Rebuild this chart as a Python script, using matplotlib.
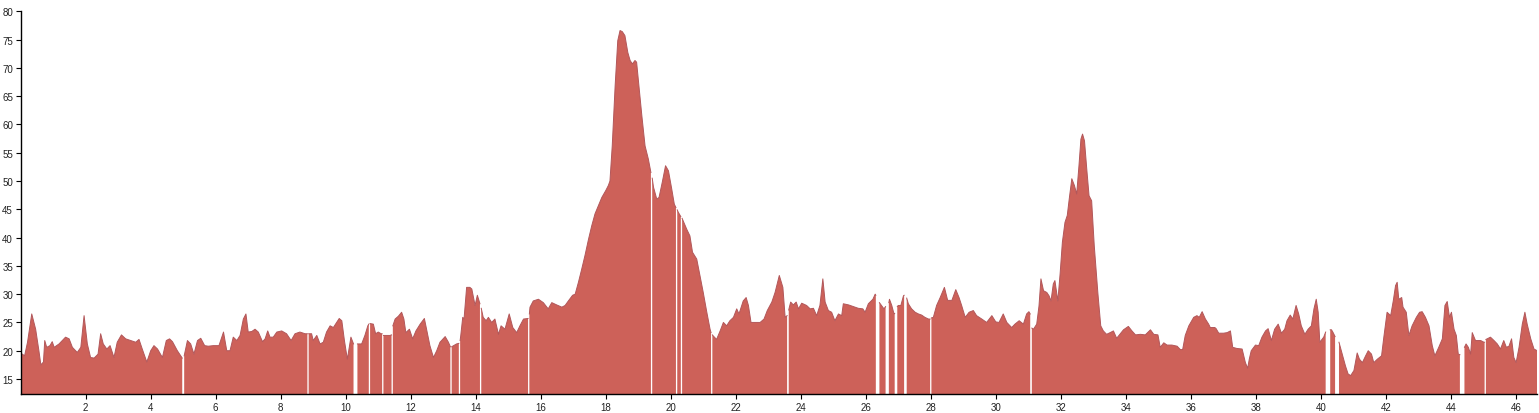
import numpy as np
import matplotlib
matplotlib.use("Agg")
import matplotlib.pyplot as plt

nan = np.nan

# distance along the track and the measured value (nan = missing sample)
dist = [
    0.00, 0.05, 0.12, 0.21, 0.34, 0.46, 0.56, 0.62, 0.70, 0.74, 0.80, 0.90, 0.97, 1.03, 1.18, 1.38, 1.49,
    1.59, 1.74, 1.85, 1.95, 2.05, 2.15, 2.26, 2.38, 2.46, 2.54, 2.65, 2.75, 2.87, 2.97, 3.10, 3.23, 3.38,
    3.54, 3.64, 3.74, 3.88, 4.00, 4.10, 4.21, 4.36, 4.48, 4.58, 4.67, 4.82, 4.97, 5.00, 5.03, 5.13, 5.23,
    5.33, 5.44, 5.54, 5.66, 5.77, 5.93, 6.10, 6.24, 6.34, 6.44, 6.54, 6.65, 6.75, 6.85, 6.93, 7.00, 7.11,
    7.21, 7.31, 7.44, 7.52, 7.60, 7.67, 7.77, 7.88, 8.03, 8.18, 8.32, 8.44, 8.59, 8.75, 8.82, 8.84, 8.86,
    8.95, 9.00, 9.11, 9.21, 9.31, 9.41, 9.52, 9.62, 9.72, 9.80, 9.88, 9.96, 10.05, 10.10, 10.16, 10.24,
    10.30, 10.36, 10.49, 10.59, 10.68, 10.71, 10.73, 10.75, 10.85, 10.92, 11.00, 11.09, 11.12, 11.14,
    11.16, 11.21, 11.36, 11.41, 11.43, 11.45, 11.52, 11.62, 11.72, 11.79, 11.85, 11.96, 12.06, 12.16,
    12.29, 12.42, 12.51, 12.59, 12.70, 12.80, 12.90, 13.06, 13.16, 13.22, 13.24, 13.26, 13.29, 13.41,
    13.48, 13.50, 13.52, 13.54, 13.60, 13.64, 13.72, 13.82, 13.88, 13.98, 14.05, 14.13, 14.15, 14.17,
    14.23, 14.32, 14.39, 14.49, 14.59, 14.70, 14.78, 14.90, 15.03, 15.14, 15.26, 15.36, 15.47, 15.61,
    15.63, 15.65, 15.67, 15.77, 15.93, 16.08, 16.23, 16.34, 16.49, 16.65, 16.75, 16.85, 16.98, 17.06,
    17.16, 17.26, 17.36, 17.47, 17.57, 17.67, 17.77, 17.88, 18.00, 18.08, 18.13, 18.20, 18.29, 18.37,
    18.44, 18.51, 18.59, 18.68, 18.75, 18.82, 18.90, 18.95, 19.02, 19.11, 19.21, 19.31, 19.39, 19.41,
    19.43, 19.47, 19.57, 19.64, 19.74, 19.84, 19.93, 20.03, 20.11, 20.16, 20.18, 20.20, 20.23, 20.31,
    20.33, 20.35, 20.49, 20.59, 20.67, 20.80, 20.90, 21.00, 21.11, 21.21, 21.24, 21.26, 21.28, 21.31,
    21.41, 21.52, 21.62, 21.72, 21.82, 21.93, 22.03, 22.10, 22.23, 22.32, 22.39, 22.47, 22.64, 22.75,
    22.87, 22.97, 23.11, 23.21, 23.34, 23.45, 23.52, 23.58, 23.60, 23.63, 23.65, 23.69, 23.77, 23.86,
    23.93, 24.03, 24.18, 24.29, 24.39, 24.49, 24.59, 24.68, 24.75, 24.85, 24.95, 25.05, 25.16, 25.26,
    25.31, 25.47, 25.62, 25.77, 25.91, 25.98, 26.08, 26.22, 26.29, 26.31, 26.37, 26.42, 26.56, 26.61,
    26.66, 26.71, 26.73, 26.80, 26.87, 26.89, 26.93, 26.97, 27.00, 27.08, 27.16, 27.18, 27.22, 27.26,
    27.31, 27.41, 27.52, 27.62, 27.72, 27.82, 27.93, 27.98, 28.00, 28.02, 28.08, 28.18, 28.29, 28.42,
    28.52, 28.65, 28.77, 28.87, 28.95, 29.06, 29.18, 29.31, 29.41, 29.57, 29.72, 29.88, 30.00, 30.10,
    30.23, 30.34, 30.49, 30.59, 30.72, 30.85, 30.95, 31.02, 31.06, 31.08, 31.11, 31.16, 31.26, 31.33,
    31.39, 31.47, 31.57, 31.64, 31.70, 31.77, 31.82, 31.91, 31.98, 32.05, 32.13, 32.20, 32.26, 32.34,
    32.42, 32.49, 32.56, 32.62, 32.67, 32.73, 32.80, 32.87, 32.95, 33.03, 33.14, 33.23, 33.31, 33.41,
    33.52, 33.62, 33.72, 33.82, 33.93, 34.08, 34.19, 34.30, 34.45, 34.60, 34.76, 34.86, 34.99, 35.06,
    35.17, 35.27, 35.42, 35.58, 35.68, 35.75, 35.83, 35.94, 36.09, 36.19, 36.26, 36.35, 36.45, 36.55,
    36.60, 36.74, 36.78, 36.86, 37.01, 37.12, 37.22, 37.29, 37.42, 37.58, 37.68, 37.75, 37.80, 37.86,
    37.99, 38.09, 38.19, 38.30, 38.38, 38.48, 38.58, 38.69, 38.79, 38.89, 38.96, 39.06, 39.14, 39.24,
    39.32, 39.40, 39.51, 39.61, 39.71, 39.79, 39.86, 39.92, 39.97, 40.09, 40.15, 40.22, 40.29, 40.33,
    40.38, 40.44, 40.50, 40.56, 40.66, 40.76, 40.84, 40.92, 41.02, 41.12, 41.19, 41.28, 41.38, 41.46,
    41.56, 41.63, 41.74, 41.87, 41.94, 42.04, 42.15, 42.23, 42.30, 42.35, 42.40, 42.49, 42.53, 42.63,
    42.71, 42.81, 42.94, 43.04, 43.12, 43.22, 43.33, 43.43, 43.51, 43.63, 43.74, 43.82, 43.89, 43.96,
    44.02, 44.10, 44.17, 44.23, 44.28, 44.35, 44.42, 44.47, 44.54, 44.61, 44.66, 44.76, 44.92, 45.02,
    45.04, 45.06, 45.08, 45.12, 45.22, 45.33, 45.43, 45.53, 45.63, 45.71, 45.79, 45.87, 45.94, 46.01,
    46.10, 46.20, 46.28, 46.35, 46.46, 46.56, 46.66,
]
speed = [
    19.5, 19.4, 19.1, 21.5, 26.5, 23.8, 20.0, 17.5, 18.0, 21.8, 20.6, 20.9, 21.6, 20.6, 21.2, 22.4, 22.1,
    20.6, 19.7, 20.6, 26.2, 21.2, 18.8, 18.7, 19.4, 23.0, 21.2, 20.3, 20.9, 18.8, 21.5, 22.8, 22.1, 21.8,
    21.5, 22.0, 20.3, 18.0, 20.0, 20.9, 20.3, 18.8, 21.8, 22.1, 21.6, 20.0, 18.7, nan, 19.1, 21.8, 21.2,
    19.4, 21.8, 22.2, 20.9, 20.8, 20.9, 20.9, 23.3, 20.0, 20.0, 22.4, 21.8, 22.7, 25.6, 26.5, 23.3, 23.4,
    23.8, 23.3, 21.6, 22.1, 23.5, 22.4, 22.4, 23.3, 23.5, 23.0, 21.8, 23.0, 23.3, 23.0, 23.0, nan, 23.0,
    23.0, 21.8, 22.7, 21.2, 21.5, 23.3, 24.4, 24.1, 25.0, 25.7, 25.3, 21.8, 18.5, 20.3, 22.4, 21.2,
    nan, 21.2, 21.2, 22.7, 24.4, 24.7, nan, 24.8, 24.7, 23.0, 23.3, 23.0, 23.0, nan,
    22.7, 22.7, 22.7, 22.8, nan, 24.4, 25.6, 26.1, 26.8, 25.6, 23.2, 23.8, 22.1, 23.5,
    24.7, 25.7, 23.2, 20.9, 18.8, 20.0, 21.5, 22.5, 21.5, 20.7, nan, 20.7, 20.8, 21.2,
    21.3, nan, 21.8, 22.7, 25.9, 25.6, 31.2, 31.2, 30.9, 28.0, 29.8, 28.3, nan, 27.5,
    25.9, 25.3, 25.9, 25.0, 25.6, 22.9, 24.4, 23.8, 26.5, 24.1, 23.2, 24.4, 25.6, 25.7,
    nan, 26.5, 27.7, 28.8, 29.1, 28.5, 27.4, 28.5, 28.1, 27.7, 28.0, 28.8, 29.8, 30.0,
    32.1, 34.4, 36.8, 39.7, 42.1, 44.2, 45.6, 47.1, 48.3, 49.2, 50.0, 56.2, 66.9, 74.8,
    76.6, 76.4, 75.7, 72.7, 71.3, 70.7, 71.3, 71.0, 66.9, 61.6, 56.2, 53.9, 51.5, nan,
    50.5, 48.9, 46.8, 47.1, 49.8, 52.7, 51.8, 48.6, 45.9, 45.3, nan, 44.9, 44.5, 43.7,
    nan, 43.4, 41.5, 40.3, 37.4, 36.2, 33.3, 30.3, 26.8, 23.8, 23.2, nan, 22.8, 22.6,
    22.0, 23.5, 25.0, 24.4, 25.3, 25.9, 27.4, 26.5, 28.8, 29.4, 28.0, 25.0, 25.0, 25.0,
    25.6, 27.1, 28.6, 30.3, 33.3, 31.2, 25.9, 26.2, nan, 27.2, 27.7, 28.6, 28.1, 28.6,
    27.4, 28.4, 28.0, 27.4, 27.5, 26.2, 28.0, 32.7, 28.6, 27.1, 26.8, 25.3, 26.5, 26.2,
    28.3, 28.1, 27.8, 27.5, 27.4, 26.8, 28.3, 29.1, 30.0, 29.8, nan, 28.5, 27.4, 27.8,
    nan, 28.5, 29.1, 28.0, 26.5, 26.6, nan, 27.8, 28.0, 28.0, 29.7, 29.8, nan, 29.3,
    28.3, 27.4, 26.8, 26.5, 26.3, 25.9, 25.6, 25.6, nan, 25.8, 25.9, 28.0, 29.4, 31.2,
    28.9, 28.9, 30.8, 29.4, 28.0, 25.9, 26.8, 27.1, 26.2, 25.6, 25.0, 26.2, 25.1, 25.0,
    26.5, 25.0, 24.1, 24.7, 25.3, 24.7, 26.5, 26.9, 26.5, nan, 24.0, 23.8, 24.7, 27.9,
    32.7, 30.6, 30.3, 29.7, 28.8, 31.8, 32.4, 28.8, 33.6, 39.2, 42.7, 43.9, 46.8, 50.4,
    49.2, 47.7, 52.7, 57.4, 58.3, 57.1, 52.1, 47.4, 46.5, 38.6, 30.3, 24.4, 23.5, 22.9,
    23.2, 23.5, 22.2, 22.9, 23.7, 24.3, 23.5, 22.8, 22.9, 22.8, 23.7, 22.9, 22.8, 20.6,
    21.4, 21.0, 21.0, 20.8, 20.2, 20.2, 22.7, 24.4, 25.9, 26.2, 25.9, 26.9, 25.6, 24.7,
    24.1, 24.1, 23.9, 23.1, 23.1, 23.2, 23.5, 20.6, 20.4, 20.3, 17.9, 16.9, 18.5, 20.0,
    21.0, 20.9, 22.4, 23.5, 23.9, 21.8, 23.8, 24.7, 23.1, 23.8, 25.3, 26.3, 25.6, 28.0,
    26.5, 24.4, 22.9, 23.8, 24.4, 27.4, 29.1, 26.8, 21.5, 22.4, 23.3, nan, 23.7, 23.7,
    23.2, 22.5, nan, 21.5, 19.4, 17.3, 15.9, 15.6, 16.5, 19.6, 18.5, 17.9, 19.1, 20.0,
    19.4, 17.9, 18.5, 19.1, 22.4, 26.8, 26.2, 28.8, 31.5, 32.1, 29.1, 29.4, 27.7, 26.8,
    22.7, 24.4, 25.9, 26.8, 26.9, 25.9, 24.4, 20.9, 19.1, 20.6, 22.1, 28.0, 28.7, 25.9,
    26.8, 23.8, 22.7, 19.4, 19.3, nan, 20.6, 21.2, 20.6, 19.4, 23.2, 21.8, 21.8, 21.5,
    21.5, nan, 22.0, 22.1, 22.4, 21.8, 21.2, 20.3, 21.8, 20.6, 20.8, 22.1, 18.8, 17.9,
    20.6, 24.7, 26.8, 24.7, 22.1, 20.3, 20.0,
]

y_ticks = list(range(15, 81, 5))
x_ticks = list(range(2, 47, 2))

fill_col = "#cd6159"
edge_col = "#b2575a"

fig = plt.figure(figsize=(15.39, 4.14), dpi=100)
ax = fig.add_axes([0.01345, 0.0459, 0.9852, 0.9244])

ax.fill_between(dist, speed, 0, color=fill_col, linewidth=0)
ax.plot(dist, speed, color=edge_col, linewidth=0.7)

ax.set_xlim(0, 46.65)
ax.set_ylim(12.35, 80)
ax.set_xticks(x_ticks)
ax.set_yticks(y_ticks)

for s in ("top", "right"):
    ax.spines[s].set_visible(False)
for s in ("left", "bottom"):
    ax.spines[s].set_linewidth(1.0)
    ax.spines[s].set_color("black")

ax.tick_params(axis="both", direction="out", length=3.5, width=0.8,
               labelsize=7, pad=2, colors="black", labelcolor="#222222")
for lab in ax.get_xticklabels() + ax.get_yticklabels():
    lab.set_family(["Liberation Sans", "DejaVu Sans"])

fig.savefig("out.png", dpi=100)
